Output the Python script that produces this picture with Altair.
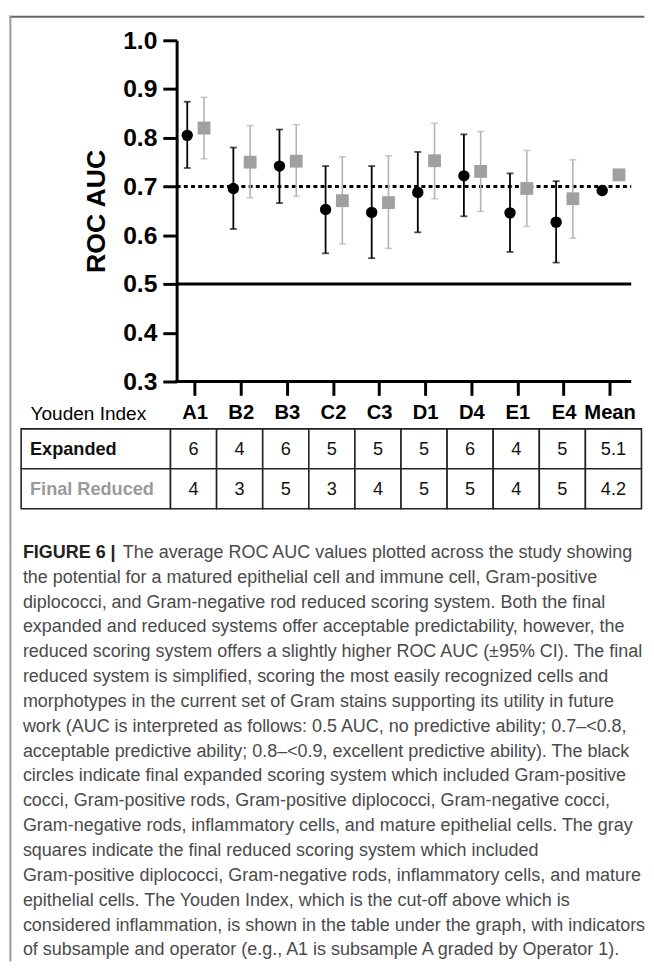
import altair as alt
import pandas as pd

# ---------------- data ----------------
cats = ["A1", "B2", "B3", "C2", "C3", "D1", "D4", "E1", "E4", "Mean"]
exp_auc = [0.805, 0.696, 0.742, 0.653, 0.647, 0.688, 0.722, 0.646, 0.627, 0.692]
exp_lo = [0.738, 0.613, 0.666, 0.563, 0.553, 0.606, 0.639, 0.566, 0.544, None]
exp_hi = [0.874, 0.780, 0.817, 0.742, 0.742, 0.771, 0.807, 0.727, 0.711, None]
red_auc = [0.820, 0.750, 0.752, 0.671, 0.667, 0.753, 0.731, 0.696, 0.675, 0.724]
red_lo = [0.757, 0.677, 0.680, 0.582, 0.573, 0.675, 0.649, 0.618, 0.594, None]
red_hi = [0.883, 0.825, 0.827, 0.761, 0.763, 0.830, 0.813, 0.774, 0.755, None]

y_ticks = [0.3, 0.4, 0.5, 0.6, 0.7, 0.8, 0.9, 1.0]
ref_levels = [0.5, 0.7]

row_names = ["Expanded", "Final Reduced"]
exp_youden = [6, 4, 6, 5, 5, 5, 6, 4, 5, 5.1]
red_youden = [4, 3, 5, 3, 4, 5, 5, 4, 5, 4.2]

fig_label = "FIGURE 6 |"
caption_first = "The average ROC AUC values plotted across the study showing"
caption_lines = [
    "the potential for a matured epithelial cell and immune cell, Gram-positive",
    "diplococci, and Gram-negative rod reduced scoring system. Both the final",
    "expanded and reduced systems offer acceptable predictability, however, the",
    "reduced scoring system offers a slightly higher ROC AUC (\u00b195% CI). The final",
    "reduced system is simplified, scoring the most easily recognized cells and",
    "morphotypes in the current set of Gram stains supporting its utility in future",
    "work (AUC is interpreted as follows: 0.5 AUC, no predictive ability; 0.7\u2013<0.8,",
    "acceptable predictive ability; 0.8\u2013<0.9, excellent predictive ability). The black",
    "circles indicate final expanded scoring system which included Gram-positive",
    "cocci, Gram-positive rods, Gram-positive diplococci, Gram-negative cocci,",
    "Gram-negative rods, inflammatory cells, and mature epithelial cells. The gray",
    "squares indicate the final reduced scoring system which included",
    "Gram-positive diplococci, Gram-negative rods, inflammatory cells, and mature",
    "epithelial cells. The Youden Index, which is the cut-off above which is",
    "considered inflammation, is shown in the table under the graph, with indicators",
    "of subsample and operator (e.g., A1 is subsample A graded by Operator 1).",
]

# ---------------- layout / style ----------------
FONT = "Liberation Sans"
W, H = 461, 346
TABLE_H = 81
GAP = 48
OFF_EXP, OFF_RED = -8, 9
BLACK = "#000000"
SQ_GRAY = "#a0a0a0"
BAR_GRAY = "#b3b3b3"
CAP_SIZE = 18.2
CAP_COLOR = "#4a4a4a"

df = pd.DataFrame(dict(cat=cats, exp=exp_auc, exp_lo=exp_lo, exp_hi=exp_hi,
                       red=red_auc, red_lo=red_lo, red_hi=red_hi))
one = pd.DataFrame({"a": [0]})

xscale = alt.Scale(domain=cats, range=[-4.6, 463.0], paddingInner=0, paddingOuter=0)
xaxis = alt.Axis(domain=False, ticks=True, tickSize=14, tickWidth=3, tickColor=BLACK,
                 bandPosition=0.5, labelAngle=0, labelFont=FONT, labelFontSize=20.5,
                 labelFontWeight="bold", labelColor=BLACK, labelPadding=8,
                 title="Youden Index", titleFont=FONT, titleFontSize=19.3,
                 titleFontWeight="normal", titleColor=BLACK, titleAngle=0,
                 titleAlign="left", titleBaseline="middle", titleX=-148.6, titleY=33)
yscale = alt.Scale(domain=[0.3, 1.0], nice=False, zero=False)
yaxis = alt.Axis(values=y_ticks, format=".1f", grid=False, domainWidth=3,
                 domainColor=BLACK, tickSize=14, tickWidth=3, tickColor=BLACK,
                 labelFont=FONT, labelFontSize=25, labelFontWeight="bold",
                 labelColor=BLACK, labelPadding=6, title="ROC AUC", titleFont=FONT,
                 titleFontSize=27, titleFontWeight="bold", titleColor=BLACK,
                 titlePadding=12)


def X():
    return alt.X("cat:N", sort=cats, scale=xscale, axis=xaxis)


def Y(field):
    return alt.Y(field, scale=yscale, axis=yaxis)


base = alt.Chart(df)
valid = "isValid(datum.exp_lo)"

layers = []
# reference lines and bottom axis line
layers.append(alt.Chart(one).mark_rule(color=BLACK, strokeWidth=3).encode(
    y=alt.datum(ref_levels[0]), x=alt.value(0), x2=alt.value(W)))
layers.append(alt.Chart(one).mark_rule(color=BLACK, strokeWidth=3, strokeDash=[4, 3.3]).encode(
    y=alt.datum(ref_levels[1]), x=alt.value(0), x2=alt.value(W)))
layers.append(alt.Chart(one).mark_rule(color=BLACK, strokeWidth=3).encode(
    y=alt.datum(y_ticks[0]), x=alt.value(-1.5), x2=alt.value(W)))

# expanded (black circles)
layers.append(base.transform_filter(valid).mark_rule(color=BLACK, strokeWidth=1.8, xOffset=OFF_EXP).encode(
    x=X(), y=Y("exp_lo:Q"), y2="exp_hi:Q"))
for f in ["exp_lo:Q", "exp_hi:Q"]:
    layers.append(base.transform_filter(valid).mark_tick(color=BLACK, orient="horizontal", size=7,
                                                         thickness=1.8, xOffset=OFF_EXP).encode(x=X(), y=Y(f)))
layers.append(base.mark_circle(color=BLACK, opacity=1, size=133, xOffset=OFF_EXP).encode(x=X(), y=Y("exp:Q")))

# reduced (gray squares)
validr = "isValid(datum.red_lo)"
layers.append(base.transform_filter(validr).mark_rule(color=BAR_GRAY, strokeWidth=1.6, xOffset=OFF_RED).encode(
    x=X(), y=Y("red_lo:Q"), y2="red_hi:Q"))
for f in ["red_lo:Q", "red_hi:Q"]:
    layers.append(base.transform_filter(validr).mark_tick(color=BAR_GRAY, orient="horizontal", size=7,
                                                          thickness=1.6, xOffset=OFF_RED).encode(x=X(), y=Y(f)))
layers.append(base.mark_square(color=SQ_GRAY, opacity=1, size=169, xOffset=OFF_RED).encode(x=X(), y=Y("red:Q")))

# frame (top and left border)
layers.append(alt.Chart(one).mark_rule(color="#666666", strokeWidth=2).encode(
    x=alt.value(-169.6), x2=alt.value(474.4), y=alt.value(-24)))
layers.append(alt.Chart(one).mark_rule(color="#9a9a9a", strokeWidth=2).encode(
    x=alt.value(-168.6), y=alt.value(-25), y2=alt.value(934)))

plot = alt.layer(*layers).properties(width=W, height=H)

# ---------------- table ----------------
HEAD_W = 3.24
MEAN_W = 1.216
cells = []
for r, vals in zip(row_names, [exp_youden, red_youden]):
    for i, (c, v) in enumerate(zip(cats, vals)):
        cells.append(dict(row=r, x0=i, x1=i + (MEAN_W if c == "Mean" else 1), label=f"{v:g}"))
cells_df = pd.DataFrame(cells)
head_df = pd.DataFrame(dict(row=row_names, x0=[-HEAD_W] * 2, x1=[0] * 2, label=row_names))

tx = alt.Scale(domain=[0, 10], range=[-6.2, 461.3], nice=False, zero=False)
ty = alt.Scale(domain=row_names, paddingInner=0, paddingOuter=0)

t_rect = alt.Chart(pd.concat([head_df, cells_df])).mark_rect(fill="white", stroke="#222222", strokeWidth=1.6).encode(
    x=alt.X("x0:Q", scale=tx, axis=None), x2="x1:Q",
    y=alt.Y("row:N", sort=row_names, scale=ty, axis=None))
t_vals = alt.Chart(cells_df).transform_calculate(xc="(datum.x0 + datum.x1) / 2").mark_text(
    font=FONT, fontSize=18.4, color="#111111", baseline="middle", align="center").encode(
    x=alt.X("xc:Q", scale=tx, axis=None),
    y=alt.Y("row:N", sort=row_names, scale=ty, axis=None), text="label:N")
t_head = alt.Chart(head_df).mark_text(font=FONT, fontSize=18.4, fontWeight="bold", baseline="middle",
                                      align="left", dx=9).encode(
    x=alt.X("x0:Q", scale=tx, axis=None),
    y=alt.Y("row:N", sort=row_names, scale=ty, axis=None), text="label:N",
    color=alt.Color("row:N", scale=alt.Scale(domain=row_names, range=["#111111", "#9a9a9a"]), legend=None))
table = alt.layer(t_rect, t_vals, t_head).properties(width=W, height=TABLE_H)

# ---------------- caption ----------------
cap_df = pd.DataFrame(dict(i=list(range(1, len(caption_lines) + 1)), text=caption_lines))
first_df = pd.DataFrame(dict(i=[0], text=[caption_first], label=[fig_label]))
cy = alt.Scale(domain=[0, 16], range=[-3.2, 400], nice=False, zero=False)
c_lines = alt.Chart(cap_df).mark_text(font=FONT, fontSize=CAP_SIZE, color=CAP_COLOR, align="left",
                                      baseline="middle").encode(
    x=alt.value(-155.9), y=alt.Y("i:Q", scale=cy, axis=None), text="text:N")
c_first = alt.Chart(first_df).mark_text(font=FONT, fontSize=CAP_SIZE, color=CAP_COLOR, align="left",
                                        baseline="middle").encode(
    x=alt.value(-54.6), y=alt.Y("i:Q", scale=cy, axis=None), text="text:N")
c_label = alt.Chart(first_df).mark_text(font=FONT, fontSize=CAP_SIZE, fontWeight="bold", color="#222222",
                                        align="left", baseline="middle").encode(
    x=alt.value(-155.9), y=alt.Y("i:Q", scale=cy, axis=None), text="label:N")
caption = alt.layer(c_lines, c_first, c_label).properties(width=W, height=400)

chart = alt.vconcat(plot, table, caption, spacing=GAP, bounds="flush", padding=0,
                    background="white").configure_view(stroke=None)

chart.save("out.html", embed_options={"renderer": "svg", "actions": False})
